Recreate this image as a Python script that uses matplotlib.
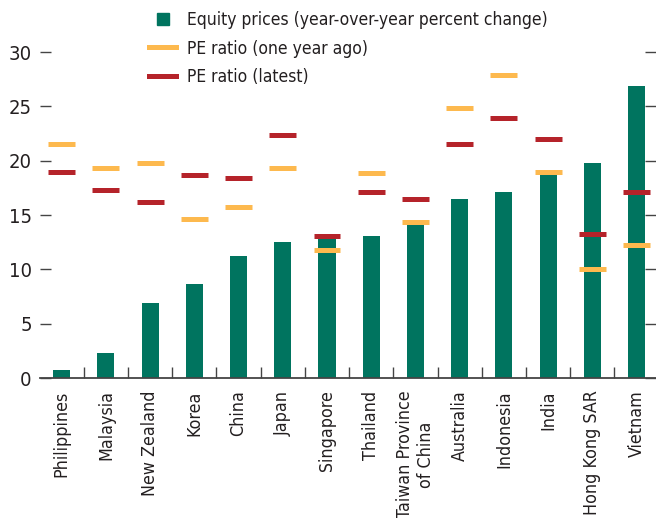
import numpy as np
import matplotlib
matplotlib.use('Agg')
import matplotlib.pyplot as plt
from matplotlib.lines import Line2D

plt.rcParams['font.family'] = ['Liberation Sans Narrow', 'DejaVu Sans']
plt.rcParams['font.stretch'] = 'condensed'

countries = ['Philippines', 'Malaysia', 'New Zealand', 'Korea', 'China', 'Japan',
             'Singapore', 'Thailand', 'Taiwan Province\nof China', 'Australia',
             'Indonesia', 'India', 'Hong Kong SAR', 'Vietnam']
equity_prices = [0.7, 2.3, 6.9, 8.7, 11.2, 12.5, 12.9, 13.1, 14.3, 16.5, 17.1, 18.7, 19.8, 26.9]
pe_year_ago = [21.5, 19.3, 19.8, 14.6, 15.7, 19.3, 11.8, 18.9, 14.4, 24.9, 27.9, 19.0, 10.0, 12.2]
pe_latest = [19.0, 17.3, 16.2, 18.7, 18.4, 22.4, 13.1, 17.1, 16.5, 21.5, 23.9, 22.0, 13.3, 17.1]

teal = '#00745f'
yellow = '#fdb94e'
red = '#b5232a'
ink = '#231f20'

fig = plt.figure(figsize=(6.56, 5.18), dpi=100)
ax = fig.add_axes([40 / 656, 140 / 518, 616 / 656, 378 / 518])

x = np.arange(len(countries))
ax.bar(x, equity_prices, width=0.385, color=teal, zorder=2)
ax.hlines(pe_year_ago, x - 0.305, x + 0.305, colors=yellow, linewidth=3.6, zorder=3)
ax.hlines(pe_latest, x - 0.305, x + 0.305, colors=red, linewidth=3.6, zorder=3)

ax.set_xlim(-0.49, 13.44)
ax.set_ylim(0, 34.8)
ax.set_yticks(range(0, 31, 5))
ax.tick_params(axis='y', which='both', direction='in', length=8, width=1, color='#444444',
               labelsize=14.5, labelcolor=ink, pad=6, right=True)
ax.set_xticks(x)
ax.set_xticklabels(countries, rotation=90, fontsize=12.8, color=ink, va='top', ha='center')
ax.set_xticks(x[:-1] + 0.5, minor=True)
ax.tick_params(axis='x', which='major', length=0, pad=9)
ax.tick_params(axis='x', which='minor', direction='in', length=8, width=1, color='#444444')

for side in ['left', 'right', 'top']:
    ax.spines[side].set_visible(False)
ax.spines['bottom'].set_color('#444444')
ax.spines['bottom'].set_linewidth(1.3)

handles = [
    Line2D([], [], linestyle='none', marker='s', markersize=8, color=teal),
    Line2D([], [], color=yellow, linewidth=3.6),
    Line2D([], [], color=red, linewidth=3.6),
]
labels = ['Equity prices (year-over-year percent change)',
          'PE ratio (one year ago)', 'PE ratio (latest)']
ax.legend(handles, labels, loc='upper left', bbox_to_anchor=(0.152, 1.012), frameon=False,
          fontsize=12.5, handlelength=1.55, handletextpad=0.65, labelspacing=0.6,
          labelcolor=ink)

fig.savefig('out.png', dpi=100)
